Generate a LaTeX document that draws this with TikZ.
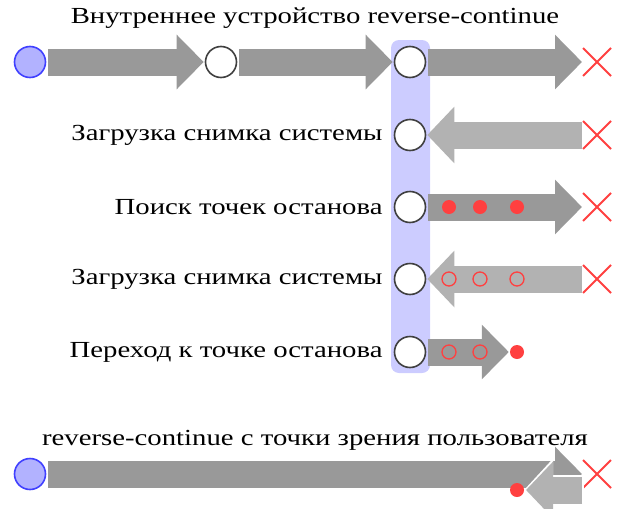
\documentclass[tikz,border=0pt]{standalone}
\usepackage{fontspec}
\setmainfont[FakeStretch=1.25]{Liberation Serif}
\usetikzlibrary{arrows.meta,positioning,shapes.misc}

\begin{document}
\begin{tikzpicture}[
    x=1pt, y=-1pt,
    font=\fontsize{23}{27}\selectfont,
    state/.style={circle, draw=black!75, line width=1.6pt, fill=white, minimum size=31pt, inner sep=0pt},
    start/.style={state, draw=blue!75, fill=blue!30},
    band/.style={fill=blue!20, rounded corners=8pt, minimum width=39pt, minimum height=333pt, inner sep=0pt},
    stop/.style={cross out, draw=red!75, line width=2pt, minimum size=26pt, inner sep=0pt},
    bp/.style={circle, fill=red!75, minimum size=14pt, inner sep=0pt},
    oldbp/.style={circle, draw=red!75, line width=1.3pt, minimum size=14pt, inner sep=0pt},
    lbl/.style={anchor=east, inner sep=2pt},
    fwd/.style={black!40, line width=27pt, -{Triangle[length=27pt, width=53pt]}, shorten <=2pt, shorten >=1pt},
    bwd/.style={black!30, line width=27pt, -{Triangle[length=27pt, width=55pt]}, shorten <=1pt, shorten >=1pt}
]
\useasboundingbox (0,0) rectangle (619,509);

% inside view
\node (title) at (315,18) {Внутреннее устройство reverse-continue};
\node[band] (band) at (410.5,206.5) {};

\node[start] (s0) at (30,62) {};
\node[state] (m1) at (221,62) {};
\node[state] (c1) at (410,62) {};
\node[state] (c2) at (410,135) {};
\node[state] (c3) at (410,207) {};
\node[state] (c4) at (410,279) {};
\node[state] (c5) at (410,352) {};

\node[stop] (x1) at (597,62) {};
\node[stop] (x2) at (597,135) {};
\node[stop] (x3) at (597,207) {};
\node[stop] (x4) at (597,279) {};
\node[bp] (d5) at (517,352) {};

\node[lbl, left=9pt of c2] (l2) {Загрузка снимка системы};
\node[lbl, left=9pt of c3] (l3) {Поиск точек останова};
\node[lbl, left=9pt of c4] (l4) {Загрузка снимка системы};
\node[lbl, left=9pt of c5] (l5) {Переход к точке останова};

\draw[fwd] (s0) -- (m1);
\draw[fwd] (m1) -- (c1);
\draw[fwd] (c1) -- (x1);
\draw[bwd] (x2) -- (c2);
\draw[fwd] (c3) -- (x3);
\draw[bwd] (x4) -- (c4);
\draw[fwd] (c5) -- (d5);

\foreach \px [count=\i] in {449,480,517} {
  \node[bp] (p3\i) at (\px,207) {};
  \node[oldbp] (q4\i) at (\px,279) {};
}
\node[oldbp] (q51) at (449,352) {};
\node[oldbp] (q52) at (480,352) {};

% user view
\node (title2) at (315,440) {reverse-continue с точки зрения пользователя};
\node[start] (s1) at (30,474) {};
\node[stop] (x6) at (597,474) {};
\coordinate (b6) at (584,490);
\coordinate (e6) at (524,490);
\draw[fwd] (s1) -- (x6);
\draw[white, line width=31pt, -{Triangle[length=29pt, width=61pt]}] (b6) -- (e6);
\draw[bwd, shorten <=2pt, shorten >=2pt] (b6) -- (e6);
\node[bp] (d6) at (517,490) {};
\end{tikzpicture}
\end{document}
